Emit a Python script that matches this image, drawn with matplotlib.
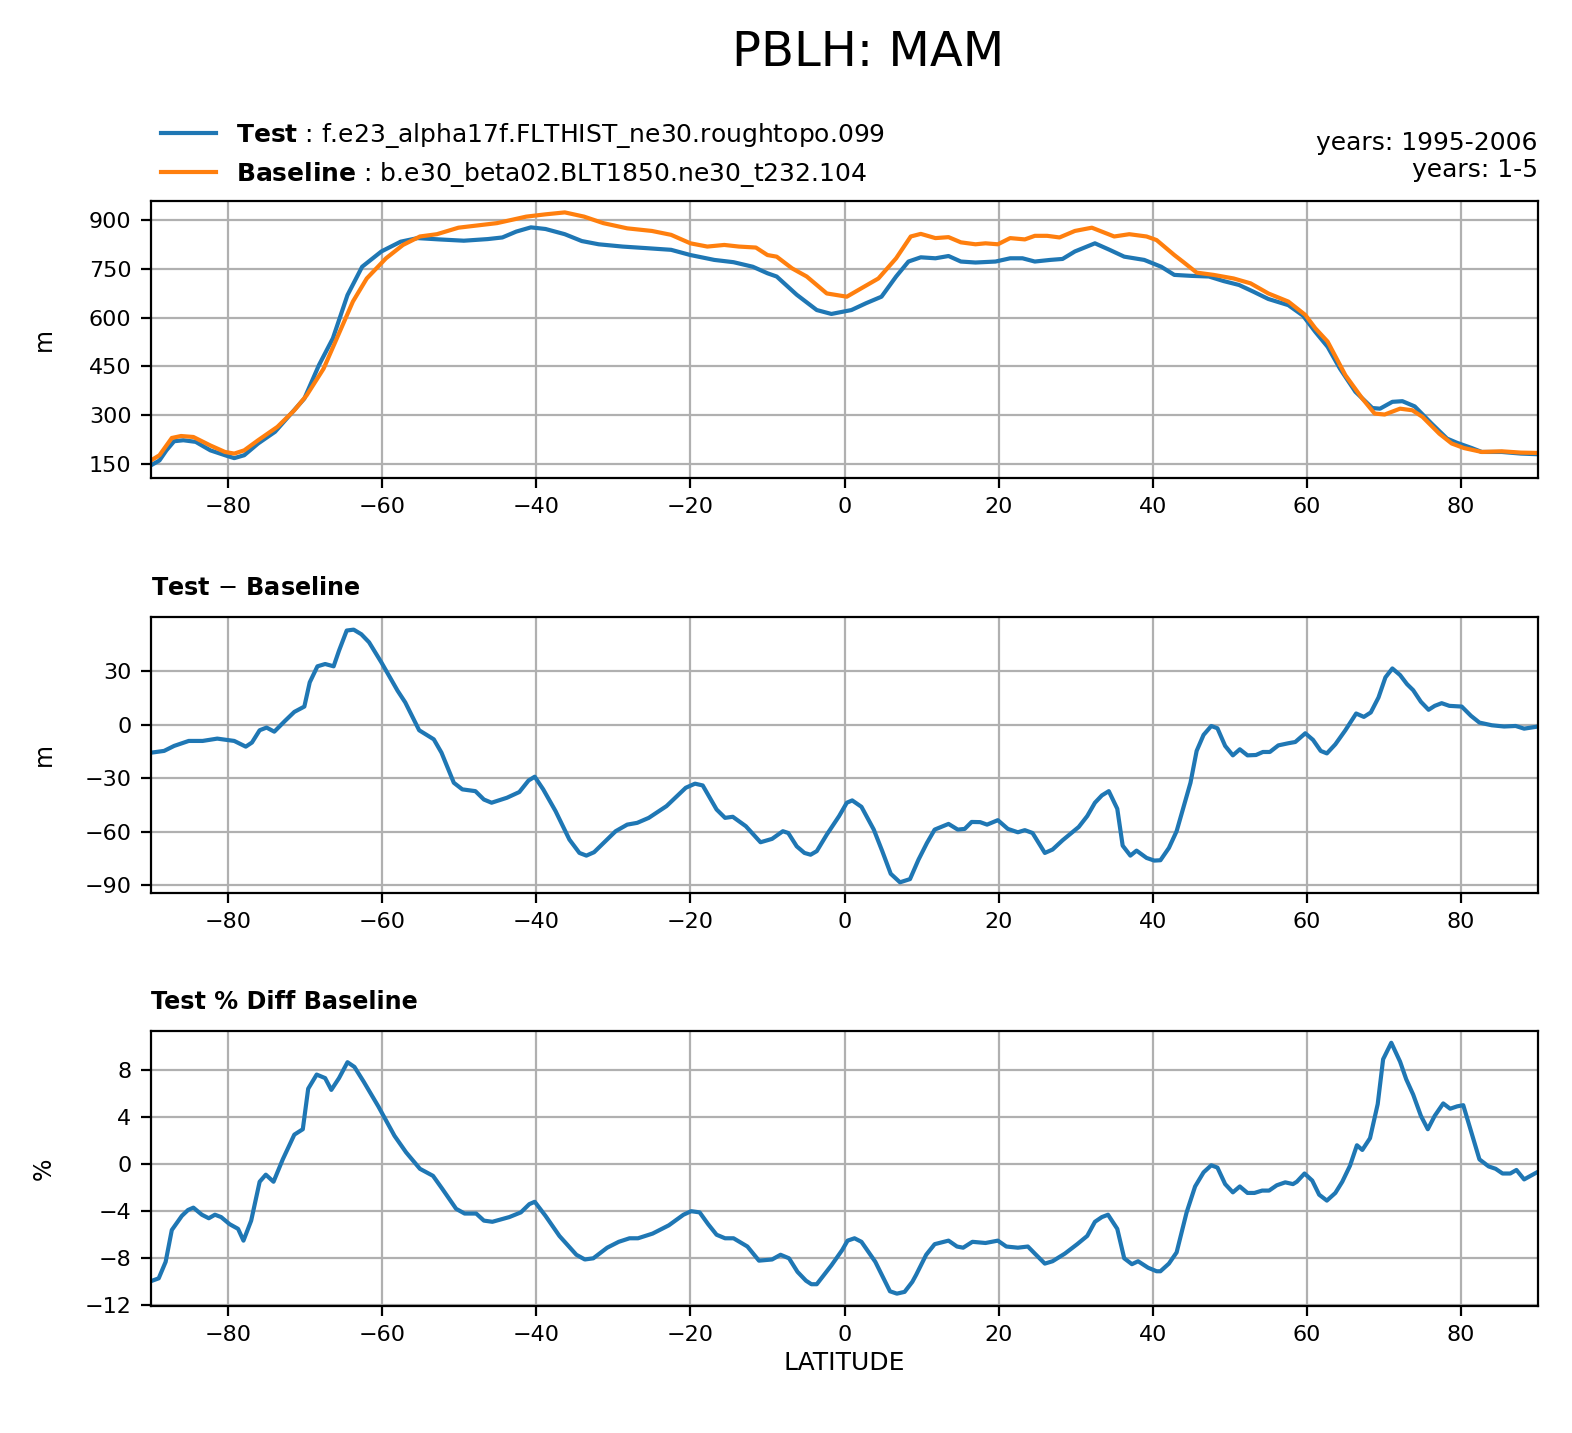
import numpy as np
import matplotlib
matplotlib.use("Agg")
from matplotlib import pyplot as plt

# PBLH zonal means (m)
lat_test = [-90, -88.9, -88, -87, -85.8, -84.2, -82.3, -80.4, -79.2, -77.9,
            -76.1, -73.9, -72, -70.1, -68.2, -66.4, -64.5, -62.6, -60.1, -57.6,
            -55.4, -52.6, -49.4, -46.3, -44.4, -42.6, -40.7, -38.8, -36.3, -34.1,
            -31.9, -28.8, -25.6, -22.5, -20, -16.9, -14.4, -11.9, -10,
            -8.8, -6.2, -3.6, -1.7, 0.9, 2.8, 4.8, 6.7, 8.3, 9.9,
            11.8, 13.5, 15.1, 17, 19.6, 21.5, 23.1, 24.7, 26.7, 28.3,
            29.9, 32.5, 34.4, 36.3, 38.9, 41.1, 42.8, 45, 47.3, 49.2,
            51.2, 53.1, 55, 57.6, 59.5, 61.1, 62.7, 64.3, 66.3, 68.5,
            69.5, 71.1, 72.4, 74, 76.2, 78.2, 79.5, 81.4, 82.7, 85.3, 87.8, 90]
test = [146, 161, 192, 220, 223, 218, 192, 177, 168, 177,
        213, 249, 300, 351, 454, 536, 669, 756, 803, 833,
        844, 840, 836, 841, 846, 864, 877, 872, 856, 835,
        825, 818, 813, 808, 792, 777, 770, 756, 736,
        726, 670, 623, 611, 623, 644, 664, 726, 772, 785,
        782, 789, 772, 769, 772, 782, 782, 772, 777, 780,
        803, 828, 808, 787, 777, 756, 731, 728, 726, 712,
        700, 679, 657, 638, 606, 556, 510, 443, 372, 322,
        320, 341, 343, 327, 274, 228, 215, 199, 187, 187, 182, 180]

lat_base = [-90, -88.9, -87.3, -86.1, -84.5, -82.3, -80.4, -79.2, -77.9, -76.1,
            -73.6, -71.4, -69.8, -67.6, -65.7, -63.8, -62, -59.5, -57.3, -55.1,
            -52.9, -50.1, -47.6, -45.1, -43.2, -41.3, -38.8, -36.3, -33.8, -31.3,
            -28.2, -25, -22.5, -20, -17.8, -15.6, -13.7, -11.5, -10,
            -8.8, -6.8, -4.9, -2.3, 0.3, 2.2, 4.4, 6.7, 8.6, 9.9,
            11.8, 13.5, 15.1, 17, 18.3, 19.9, 21.5, 23.4, 24.7, 26.3,
            27.9, 29.9, 32.1, 35, 36.96, 39.2, 40.5, 42.8, 44, 45.7,
            47.9, 50.5, 52.7, 55, 57.6, 59.8, 61.1, 62.7, 65, 67.2,
            68.8, 70.1, 72.1, 73.7, 75, 77.2, 78.8, 80.4, 82.7, 85.3, 87.8, 90]
baseline = [161, 177, 230, 236, 233, 207, 187, 182, 192, 223,
            264, 315, 361, 443, 546, 649, 720, 782, 823, 849,
            856, 876, 883, 890, 900, 910, 917, 923, 910, 890,
            874, 866, 854, 828, 818, 823, 818, 815, 792,
            787, 751, 726, 674, 664, 690, 720, 782, 849, 857,
            844, 847, 831, 825, 828, 825, 844, 840, 851, 851,
            846, 866, 876, 849, 856, 849, 838, 792, 770, 738,
            731, 720, 705, 674, 649, 608, 567, 526, 423, 351,
            305, 302, 320, 315, 295, 243, 213, 199, 187, 189, 185, 184]

# Test - Baseline (m)
lat_diff = [-90, -88.3, -87, -85.1, -83.3, -81.4, -79.2, -77.7, -76.9, -75.9,
            -75, -74, -72.6, -71.4, -70.1, -69.4, -68.4, -67.4, -66.3, -65.6,
            -64.6, -63.7, -62.7, -61.7, -60.1, -58, -57, -55.2, -53.3, -52.3,
            -50.7, -49.6, -47.9, -46.8, -45.8, -43.8, -42.2, -41, -40.2, -39.1,
            -37.5, -35.7, -34.4, -33.5, -32.5, -29.7, -28.2, -26.9, -25.4, -23.1,
            -20.6, -19.4, -18.4, -16.6, -15.5, -14.5, -12.8, -10.9, -9.4,
            -8.0, -7.3, -6.2, -5.2, -4.4, -3.6, -2.3, -0.7, 0.3, 1.0,
            2.2, 3.8, 4.9, 6.0, 7.2, 8.5, 9.6, 10.7, 11.7, 13.5,
            14.7, 15.6, 16.5, 17.6, 18.5, 19.9, 21.2, 22.5, 23.4, 24.4,
            26, 27, 28.3, 30.4, 31.5, 32.5, 33.4, 34.3, 35.4, 36.1,
            37.1, 37.9, 39.2, 40.2, 41, 42.1, 43.1, 44, 44.9, 45.7,
            46.6, 47.6, 48.4, 49.4, 50.4, 51.3, 52.3, 53.4, 54.3, 55.2,
            56.3, 57.6, 58.5, 59.8, 60.8, 61.8, 62.6, 63.7, 65, 66.4,
            67.4, 68.3, 69.3, 70.2, 71.1, 72.1, 73, 73.8, 74.8, 75.8,
            76.6, 77.5, 78.5, 80.1, 81.3, 82.4, 84, 85.6, 87.1, 88.2, 90]
diff = [-15.7, -14.7, -11.9, -9.1, -9.1, -7.8, -9.1, -12.3, -10, -3.1,
        -1.6, -3.9, 2.2, 7.2, 10.2, 23.8, 32.8, 34.1, 32.8, 41.6,
        52.9, 53.4, 50.8, 46.3, 35, 19.1, 12.5, -3.1, -8.2, -15.7,
        -32.6, -36.3, -37.3, -42, -43.8, -41, -37.8, -31.3, -29.2, -36.3,
        -48.5, -64.5, -72, -73.5, -71.6, -59.8, -56.1, -55.1, -52.3, -45.7,
        -35.4, -33.1, -34.1, -47.6, -52.3, -51.7, -57, -66, -64.1,
        -59.8, -60.8, -68.3, -72, -73, -71, -61.7, -51.3, -43.8, -42.5,
        -46.1, -58.9, -71, -83.7, -88.5, -86.7, -75.8, -66.4, -58.9, -55.7,
        -58.9, -58.5, -54.6, -54.7, -56.1, -53.6, -58.5, -60.4, -59.2, -60.8,
        -72, -70.1, -64.9, -57.4, -51.3, -43.8, -39.7, -37.3, -47.2, -67.9,
        -73.5, -70.7, -74.8, -76.3, -76.1, -69.2, -59.8, -46.1, -32.6, -14.7,
        -5.7, -0.7, -2, -11.9, -17.2, -13.8, -17.2, -17, -15.3, -15.3,
        -11.6, -10.4, -9.7, -4.8, -8.5, -14.7, -16.1, -11, -3.1, 6.3,
        4.4, 6.9, 15.3, 26.6, 31.6, 27.9, 22.8, 19.4, 12.9, 8.4,
        10.6, 12.1, 10.6, 10.2, 5, 1.2, -0.3, -1, -0.7, -2.2, -1]

# Test % Diff Baseline
lat_pct = [-90, -89, -88.1, -87.3, -86, -85.2, -84.5, -83.4, -82.5, -81.7,
           -80.9, -79.8, -78.7, -78, -77, -75.9, -75.1, -74.1, -72.9, -71.4,
           -70.3, -69.6, -68.5, -67.4, -66.6, -65.6, -64.5, -63.6, -62.4, -60.5,
           -58.4, -56.9, -55.1, -53.4, -52.2, -50.4, -49.3, -47.8, -46.8, -45.7,
           -43.5, -42, -40.9, -40.2, -38.8, -37, -34.8, -33.7, -32.6, -30.8,
           -29.3, -27.9, -26.8, -24.9, -22.8, -20.9, -19.9, -18.8, -17.7, -16.6,
           -15.5, -14.4, -12.6, -11.1, -9.4,
           -8.3, -7.2, -6.1, -5, -4.3, -3.6, -1.7, -0.3, 0.4, 1.3,
           2.2, 4, 5.9, 6.8, 7.8, 8.8, 9.3, 10.6, 11.7, 13.5,
           14.6, 15.4, 16.6, 18.3, 19.9, 21, 22.5, 23.8, 24.7, 26,
           27, 28.6, 30.2, 31.5, 32.5, 33.4, 34.2, 35.4, 36.3, 37.3,
           38.1, 39.4, 40.5, 41, 42.1, 43.1, 44.4, 45.5, 46.6, 47.6,
           48.4, 49.4, 50.4, 51.3, 52.3, 53.2, 54.2, 55.1, 56.1, 57.2,
           58.2, 58.7, 59.7, 60.7, 61.6, 62.6, 63.7, 64.6, 65.6, 66.5,
           67.2, 68.2, 69.2, 69.9, 70.96, 72.1, 72.9, 73.8, 74.8, 75.7,
           76.6, 77.7, 78.6, 79.5, 80.3, 81.3, 82.4, 83.6, 84.5, 85.4,
           86.4, 87.2, 88.2, 90]
pct = [-9.94, -9.7, -8.3, -5.6, -4.4, -3.9, -3.7, -4.3, -4.6, -4.3,
       -4.5, -5.1, -5.5, -6.5, -4.8, -1.5, -0.9, -1.5, 0.4, 2.5,
       2.96, 6.4, 7.6, 7.3, 6.3, 7.3, 8.65, 8.25, 7, 4.9,
       2.4, 1, -0.4, -1, -2.1, -3.8, -4.2, -4.2, -4.8, -4.9,
       -4.5, -4.1, -3.4, -3.2, -4.4, -6.1, -7.7, -8.1, -8, -7.1,
       -6.6, -6.3, -6.3, -5.9, -5.2, -4.3, -4, -4.1, -5.1, -6,
       -6.3, -6.3, -7, -8.2, -8.1,
       -7.7, -8, -9.15, -9.9, -10.2, -10.2, -8.6, -7.3, -6.5, -6.3,
       -6.6, -8.3, -10.8, -11, -10.85, -10, -9.4, -7.7, -6.8, -6.5,
       -7, -7.1, -6.6, -6.7, -6.5, -7, -7.1, -7, -7.6, -8.45,
       -8.25, -7.6, -6.8, -6.1, -4.9, -4.5, -4.3, -5.5, -8, -8.5,
       -8.25, -8.8, -9.1, -9.1, -8.45, -7.5, -4.1, -1.9, -0.7, -0.1,
       -0.3, -1.7, -2.4, -1.9, -2.45, -2.45, -2.25, -2.25, -1.8, -1.55,
       -1.7, -1.5, -0.8, -1.4, -2.6, -3.1, -2.45, -1.5, -0.14, 1.6,
       1.2, 2.2, 5.1, 8.9, 10.3, 8.7, 7.2, 5.9, 4.1, 2.96,
       4.1, 5.15, 4.7, 4.9, 5, 2.8, 0.4, -0.2, -0.4, -0.8,
       -0.8, -0.5, -1.3, -0.65]

test_name = "f.e23_alpha17f.FLTHIST_ne30.roughtopo.099"
base_name = "b.e30_beta02.BLT1850.ne30_t232.104"

W, H = 1572, 1433
fig = plt.figure(figsize=(W / 200, H / 200), dpi=200)

left = 151 / W
width = (1538 - 151) / W
def axes_px(top, bottom):
    return fig.add_axes([left, 1 - bottom / H, width, (bottom - top) / H])

ax1 = axes_px(201, 478)
ax2 = axes_px(617, 893)
ax3 = axes_px(1031, 1306)

lw = 1.5
ax1.plot(lat_test, test, color="#1f77b4", lw=lw,
         label=r"$\bf{Test}$ : " + test_name)
ax1.plot(lat_base, baseline, color="#ff7f0e", lw=lw,
         label=r"$\bf{Baseline}$ : " + base_name)
ax2.plot(lat_diff, diff, color="#1f77b4", lw=lw)
ax3.plot(lat_pct, pct, color="#1f77b4", lw=lw)

ax1.set_ylim(107, 958)
ax1.set_yticks([150, 300, 450, 600, 750, 900])
ax2.set_ylim(-94.5, 60.5)
ax2.set_yticks([-90, -60, -30, 0, 30])
ax3.set_ylim(-12.05, 11.3)
ax3.set_yticks([-12, -8, -4, 0, 4, 8])

for ax, lab in [(ax1, "m"), (ax2, "m"), (ax3, "%")]:
    ax.set_xlim(-90, 90)
    ax.set_xticks([-80, -60, -40, -20, 0, 20, 40, 60, 80])
    ax.grid(True, color="#b0b0b0", lw=0.8)
    ax.set_axisbelow(True)
    ax.tick_params(labelsize=8)
    ax.set_ylabel(lab, fontsize=8.5)
    ax.yaxis.set_label_coords((56 - 151) / (1538 - 151), 0.5)

ax2.set_title("Test $-$ Baseline", loc="left", fontsize=8.6, fontweight="bold", pad=8)
ax3.set_title("Test % Diff Baseline", loc="left", fontsize=8.6, fontweight="bold", pad=8)
ax3.set_xlabel("LATITUDE", fontsize=9, labelpad=2)

ax1.legend(loc="lower left", bbox_to_anchor=(0.0, 1.007), borderaxespad=0,
           frameon=False, fontsize=9, handlelength=2.2, labelspacing=0.42)
ax1.text(1.0, 1.068, "years: 1995-2006\nyears: 1-5", transform=ax1.transAxes,
         ha="right", va="bottom", fontsize=9, linespacing=1.15)

fig.text(0.552, 1 - 52 / H, "PBLH: MAM", ha="center", va="center", fontsize=17.3)

fig.savefig("out.png", dpi=200)
